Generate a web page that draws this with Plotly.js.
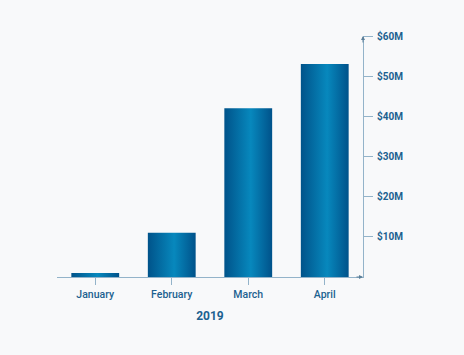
<!DOCTYPE html>
<html>
<head>
<meta charset="utf-8">
<script src="https://cdn.plot.ly/plotly-3.0.1.min.js"></script>
<style>
html,body{margin:0;padding:0;background:#f8f9fa;}
#chart{width:464px;height:355px;}
</style>
</head>
<body>
<div id="chart"></div>
<script>
const months = ['January', 'February', 'March', 'April'];
const revenueM = [1, 11, 42, 53];
const yTickVals = [10, 20, 30, 40, 50, 60];
const yTickText = ['$10M', '$20M', '$30M', '$40M', '$50M', '$60M'];
const xTitle = '2019';

const labelColor = '#1c6190';
const axisColor = '#93b3c9';

const trace = {
  type: 'bar',
  x: months,
  y: revenueM,
  width: 0.625,
  marker: {color: '#0a6fa3', line: {width: 0}},
  hoverinfo: 'none'
};

const layout = {
  width: 464,
  height: 355,
  margin: {l: 57, r: 101, t: 36, b: 78},
  paper_bgcolor: '#f8f9fa',
  plot_bgcolor: 'rgba(0,0,0,0)',
  showlegend: false,
  font: {family: 'Roboto, sans-serif', color: labelColor},
  xaxis: {
    type: 'category',
    range: [-0.5, 3.5],
    showgrid: false,
    zeroline: false,
    showline: true,
    linecolor: axisColor,
    linewidth: 1,
    ticks: 'outside',
    ticklen: 7,
    tickcolor: axisColor,
    tickwidth: 1,
    tickfont: {family: 'Roboto, sans-serif', size: 10.5, color: labelColor, weight: 500},
    title: {text: xTitle, font: {family: 'Roboto, sans-serif', size: 12, color: labelColor, weight: 'bold'}, standoff: 12}
  },
  yaxis: {
    side: 'right',
    range: [0, 60],
    showgrid: false,
    zeroline: false,
    showline: true,
    linecolor: axisColor,
    linewidth: 1,
    ticks: 'outside',
    ticklen: 9,
    tickcolor: axisColor,
    tickwidth: 1,
    ticklabelstandoff: 2,
    tickvals: yTickVals,
    ticktext: yTickText,
    tickfont: {family: 'Roboto, sans-serif', size: 10, color: labelColor, weight: 'bold'}
  },
  annotations: [
    {x: 3.5, y: 60, xref: 'x', yref: 'y', ax: 0, ay: 8, showarrow: true, arrowhead: 2, arrowsize: 0.8, arrowwidth: 1, arrowcolor: '#5b7f99', text: ''},
    {x: 3.5, y: 0, xref: 'x', yref: 'y', ax: -8, ay: 0, showarrow: true, arrowhead: 2, arrowsize: 0.8, arrowwidth: 1, arrowcolor: '#5b7f99', text: ''}
  ]
};

Plotly.newPlot('chart', [trace], layout, {displayModeBar: false, staticPlot: true}).then(function(gd){
  const svg = gd.querySelector('svg.main-svg');
  const ns = 'http://www.w3.org/2000/svg';
  let defs = svg.querySelector('defs');
  if (!defs) { defs = document.createElementNS(ns, 'defs'); svg.insertBefore(defs, svg.firstChild); }
  const grad = document.createElementNS(ns, 'linearGradient');
  grad.setAttribute('id', 'barGrad');
  grad.setAttribute('x1', '0'); grad.setAttribute('y1', '0');
  grad.setAttribute('x2', '1'); grad.setAttribute('y2', '0');
  [['0%', '#00538a'], ['55%', '#0788bd'], ['100%', '#00528a']].forEach(function(s){
    const st = document.createElementNS(ns, 'stop');
    st.setAttribute('offset', s[0]);
    st.setAttribute('stop-color', s[1]);
    grad.appendChild(st);
  });
  defs.appendChild(grad);
  gd.querySelectorAll('.bars .point path').forEach(function(p){
    p.style.fill = 'url(#barGrad)';
  });
});
</script>
</body>
</html>
